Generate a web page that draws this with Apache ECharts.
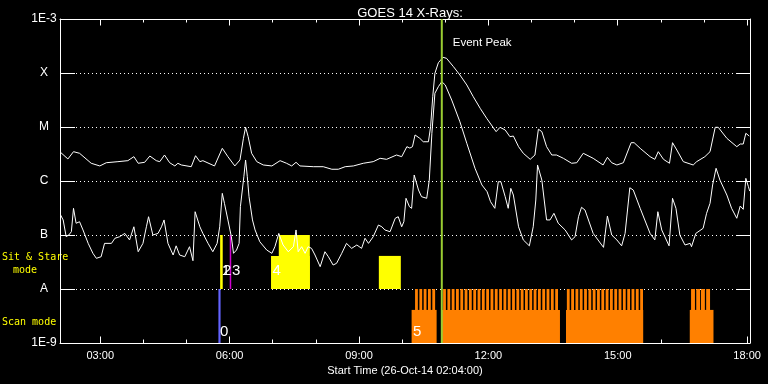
<!DOCTYPE html>
<html><head><meta charset="utf-8">
<script src="https://cdn.jsdelivr.net/npm/echarts@6/dist/echarts.min.js"></script>
<style>html,body{margin:0;padding:0;background:#000}#c{width:768px;height:384px}</style>
</head><body><div id="c"></div>
<script>
// ---- data (time in decimal hours of 26-Oct-2014, flux in W/m^2) ----
const xMin = 2.0667, xMax = 18.0667;
const majorHours = [3, 6, 9, 12, 15, 18];
const majorLabels = ['03:00', '06:00', '09:00', '12:00', '15:00', '18:00'];
const minorHours = [4, 5, 7, 8, 10, 11, 13, 14, 16, 17];
const yTickLabels = ['1E-9', 'A', 'B', 'C', 'M', 'X', '1E-3'];
const titleText = 'GOES 14 X-Rays:';
const xName = 'Start Time (26-Oct-14 02:04:00)';
const eventPeak = 10.92;

const longChannel = [[2.08,3.39e-6],[2.25,2.56e-6],[2.38,3.49e-6],[2.52,3.26e-6],[2.79,2.13e-6],[2.99,1.90e-6],[3.14,2.18e-6],[3.41,2.28e-6],[3.64,2.38e-6],[3.78,2.82e-6],[3.88,2.13e-6],[4.03,2.22e-6],[4.15,2.90e-6],[4.30,2.38e-6],[4.38,2.28e-6],[4.49,3.03e-6],[4.61,2.18e-6],[4.73,1.90e-6],[4.80,2.13e-6],[4.88,1.98e-6],[5.11,1.84e-6],[5.21,2.94e-6],[5.31,2.28e-6],[5.38,2.38e-6],[5.65,1.90e-6],[5.83,4.03e-6],[5.96,2.82e-6],[6.12,1.90e-6],[6.16,1.84e-6],[6.24,2.45e-6],[6.32,6.17e-6],[6.37,9.9e-6],[6.43,6.62e-6],[6.51,3.26e-6],[6.63,2.28e-6],[6.78,1.98e-6],[6.98,1.90e-6],[7.17,2.38e-6],[7.32,2.13e-6],[7.44,1.90e-6],[7.54,2.22e-6],[7.63,1.90e-6],[7.94,1.84e-6],[8.17,1.84e-6],[8.37,1.65e-6],[8.52,1.65e-6],[8.68,1.84e-6],[8.87,1.90e-6],[9.10,2.13e-6],[9.33,2.28e-6],[9.49,2.63e-6],[9.64,2.52e-6],[9.87,3.03e-6],[9.99,2.82e-6],[10.11,4.32e-6],[10.18,4.07e-6],[10.24,4.32e-6],[10.30,7.12e-6],[10.41,6.17e-6],[10.49,5.33e-6],[10.61,5.33e-6],[10.66,1.01e-5],[10.71,3.64e-5],[10.76,9.87e-5],[10.84,1.55e-4],[10.95,1.95e-4],[11.03,1.87e-4],[11.19,1.31e-4],[11.34,9.19e-5],[11.50,6.0e-5],[11.65,3.64e-5],[11.81,2.22e-5],[11.96,1.45e-5],[12.18,8.2e-6],[12.27,9.87e-6],[12.39,8.8e-6],[12.50,6.62e-6],[12.58,6.8e-6],[12.70,4.32e-6],[12.81,3.26e-6],[12.97,2.52e-6],[13.08,3.03e-6],[13.16,9.1e-6],[13.24,8.2e-6],[13.35,4.32e-6],[13.47,3.03e-6],[13.58,3.03e-6],[13.74,2.63e-6],[13.93,2.13e-6],[14.05,2.18e-6],[14.20,3.26e-6],[14.43,2.63e-6],[14.66,1.98e-6],[14.76,2.75e-6],[14.86,2.18e-6],[14.98,1.98e-6],[15.13,2.18e-6],[15.31,5.12e-6],[15.38,5.12e-6],[15.52,4.03e-6],[15.75,2.82e-6],[15.86,2.52e-6],[15.94,3.49e-6],[16.06,2.52e-6],[16.20,2.13e-6],[16.27,5.12e-6],[16.37,3.75e-6],[16.52,2.28e-6],[16.75,1.98e-6],[16.83,2.28e-6],[17.02,2.82e-6],[17.14,3.49e-6],[17.26,9.87e-6],[17.33,9.87e-6],[17.53,6.17e-6],[17.76,4.32e-6],[17.84,4.84e-6],[17.91,4.84e-6],[17.97,7.65e-6],[18.05,6.8e-6]];

const shortChannel = [[2.08,2.35e-7],[2.14,1.90e-7],[2.21,9.3e-8],[2.27,1.0e-7],[2.33,1.15e-7],[2.38,3.12e-7],[2.44,1.65e-7],[2.52,1.76e-7],[2.60,1.24e-7],[2.72,7.0e-8],[2.83,4.58e-8],[2.91,3.70e-8],[3.02,3.96e-8],[3.10,7.0e-8],[3.26,7.0e-8],[3.34,8.7e-8],[3.45,9.3e-8],[3.57,1.07e-7],[3.68,8.1e-8],[3.78,1.42e-7],[3.88,4.9e-8],[3.99,7.0e-8],[4.07,1.42e-7],[4.12,2.18e-7],[4.22,1.0e-7],[4.34,1.07e-7],[4.42,1.42e-7],[4.48,1.90e-7],[4.57,7.0e-8],[4.69,4.26e-8],[4.76,6.3e-8],[4.84,4.26e-8],[4.96,3.96e-8],[5.07,6.07e-8],[5.15,3.34e-8],[5.20,2.70e-7],[5.31,1.42e-7],[5.38,1.07e-7],[5.50,7.0e-8],[5.61,4.9e-8],[5.71,7.0e-8],[5.77,1.42e-7],[5.83,5.9e-7],[5.88,3.86e-7],[5.96,1.90e-7],[6.04,9.3e-8],[6.09,4.58e-8],[6.16,5.27e-8],[6.22,7.0e-8],[6.25,3.34e-7],[6.29,3.59e-7],[6.33,1.20e-6],[6.37,2.45e-6],[6.41,1.20e-6],[6.45,5.12e-7],[6.53,1.90e-7],[6.59,1.24e-7],[6.70,7.5e-8],[6.86,5.27e-8],[6.98,4.58e-8],[7.05,6.07e-8],[7.14,1.07e-7],[7.24,6.53e-8],[7.36,4.9e-8],[7.48,6.07e-8],[7.54,1.24e-7],[7.59,4.9e-8],[7.67,6.07e-8],[7.75,4.58e-8],[7.82,6.07e-8],[7.90,5.66e-8],[7.98,4.26e-8],[8.10,2.59e-8],[8.21,4.9e-8],[8.29,3.96e-8],[8.40,2.78e-8],[8.48,2.99e-8],[8.60,4.58e-8],[8.71,7.0e-8],[8.83,5.66e-8],[8.95,6.53e-8],[9.06,5.66e-8],[9.14,8.7e-8],[9.22,7.0e-8],[9.33,9.3e-8],[9.45,1.53e-7],[9.53,1.42e-7],[9.60,1.24e-7],[9.64,1.33e-7],[9.72,1.15e-7],[9.84,2.04e-7],[9.91,2.18e-7],[9.99,1.42e-7],[10.04,1.76e-7],[10.09,4.78e-7],[10.17,3.34e-7],[10.22,3.12e-7],[10.28,1.29e-6],[10.38,6.8e-7],[10.45,5.12e-7],[10.57,4.78e-7],[10.63,1.04e-6],[10.69,7.65e-6],[10.76,4.21e-5],[10.84,5.58e-5],[10.92,6.9e-5],[11.00,6.0e-5],[11.15,3.16e-5],[11.34,1.25e-5],[11.50,4.99e-6],[11.69,1.72e-6],[11.85,8.44e-7],[11.97,6.34e-7],[12.05,4.14e-7],[12.15,3.12e-7],[12.23,9.7e-7],[12.29,9.7e-7],[12.39,5.12e-7],[12.46,3.12e-7],[12.52,7.3e-7],[12.58,5.5e-7],[12.70,1.42e-7],[12.81,8.1e-8],[12.95,6.3e-8],[13.04,1.42e-7],[13.10,4.45e-7],[13.14,1.98e-6],[13.24,1.04e-6],[13.35,1.90e-7],[13.43,1.90e-7],[13.52,2.52e-7],[13.62,1.65e-7],[13.78,1.24e-7],[13.93,8.1e-8],[14.01,9.3e-8],[14.09,2.18e-7],[14.16,3.26e-7],[14.24,2.90e-7],[14.43,1.07e-7],[14.67,5.9e-8],[14.76,2.25e-7],[14.86,1.0e-7],[14.98,8.1e-8],[15.09,6.3e-8],[15.17,1.07e-7],[15.28,7.5e-7],[15.36,6.8e-7],[15.52,3.12e-7],[15.75,1.07e-7],[15.86,8.1e-8],[15.93,2.70e-7],[16.02,1.24e-7],[16.19,6.3e-8],[16.27,4.78e-7],[16.35,3.12e-7],[16.44,1.0e-7],[16.56,6.53e-8],[16.68,7.0e-8],[16.71,6.07e-8],[16.81,1.07e-7],[16.98,1.33e-7],[17.06,2.52e-7],[17.14,3.86e-7],[17.20,8.44e-7],[17.28,1.72e-6],[17.37,1.04e-6],[17.53,5.5e-7],[17.64,3.12e-7],[17.76,2.04e-7],[17.84,3.44e-7],[17.91,2.99e-7],[17.97,1.12e-6],[18.03,7.85e-7],[18.06,6.5e-7]];

// mode bars: [start, end, lowFlux, highFlux]
const sitStareBlocks = [[5.78,5.84,1e-8,1e-7],[6.96,7.86,1e-8,4.1e-8],[7.14,7.86,1e-8,1e-7],[9.46,9.97,1e-8,4.1e-8]];
const sitStareMarks = [[6.02,6.02,1e-8,1e-7]];
const scanStartBars = [[5.74,5.79,1e-9,1e-8]];
const scanBlocks = [[10.22,10.80,1e-9,4.1e-9],[10.92,13.66,1e-9,4.1e-9],[13.80,15.59,1e-9,4.1e-9],[16.67,17.22,1e-9,4.1e-9]];
// individual scans reaching the top of the scan band: [start, end]
const scanSpikes = [
 [10.30,10.365],[10.40,10.465],[10.50,10.565],[10.60,10.665],[10.70,10.765],
 [10.95,11.015],[11.05,11.115],[11.15,11.215],[11.25,11.315],[11.35,11.415],[11.45,11.515],[11.55,11.615],[11.65,11.715],[11.75,11.815],[11.85,11.915],[11.95,12.015],[12.05,12.115],[12.15,12.215],[12.25,12.315],[12.35,12.415],[12.45,12.515],[12.55,12.615],[12.65,12.715],[12.75,12.815],[12.85,12.915],[12.95,13.015],[13.05,13.115],[13.15,13.215],[13.25,13.315],[13.35,13.415],[13.45,13.515],[13.55,13.615],
 [13.82,13.885],[13.92,13.985],[14.02,14.085],[14.12,14.185],[14.22,14.285],[14.32,14.385],[14.42,14.485],[14.52,14.585],[14.62,14.685],[14.72,14.785],[14.82,14.885],[14.92,14.985],[15.02,15.085],[15.12,15.185],[15.22,15.285],[15.32,15.385],[15.42,15.485],[15.52,15.585],
 [16.70,16.79],[16.82,16.91],[16.93,17.02],[17.05,17.14]];
// event number labels: [time, text]
const sitStareLabels = [[5.78,'1'],[5.81,'2'],[6.02,'3'],[6.96,'4']];
const scanLabels = [[5.74,'0'],[10.22,'5']];

const WHITE = '#ffffff', YELLOW = '#ffff00', ORANGE = '#ff8000', MAGENTA = '#d000d0', BLUE = '#6464ff', GREEN = '#9acd32';
const FONT = '"Liberation Sans", Arial, sans-serif';

function rectRenderer(color, minW) {
  return function (params, api) {
    const p0 = api.coord([api.value(0), api.value(3)]);
    const p1 = api.coord([api.value(1), api.value(2)]);
    let w = p1[0] - p0[0];
    let x = p0[0];
    if (w < minW) { x = x - (minW - w) / 2; w = minW; }
    return { type: 'rect', shape: { x: x, y: p0[1], width: w, height: p1[1] - p0[1] }, style: { fill: color } };
  };
}
function rectSeries(data, color, minW) {
  return { type: 'custom', data: data, renderItem: rectRenderer(color, minW), encode: { x: [0, 1], y: [2, 3] }, silent: true, z: 2, clip: true };
}
function labelSeries(data, baseFlux, dx, dy) {
  return { type: 'custom', data: data, silent: true, z: 3, encode: { x: 0 },
    renderItem: function (params, api) {
      const p = api.coord([api.value(0), baseFlux]);
      return { type: 'text', x: p[0] + dx, y: p[1] + dy,
        style: { text: data[params.dataIndex][1], fill: WHITE, font: '15px ' + FONT, textAlign: 'left', textVerticalAlign: 'bottom' } };
    } };
}

const xBase = { type: 'value', min: xMin, max: xMax, splitLine: { show: false } };
const chart = echarts.init(document.getElementById('c'), null, { renderer: 'canvas' });
chart.setOption({
  backgroundColor: '#000000',
  animation: false,
  title: { text: titleText, left: 405, top: 2, textAlign: 'center',
    textStyle: { color: WHITE, fontSize: 13, fontWeight: 'normal', fontFamily: FONT } },
  grid: { left: 60, right: 18, top: 19, bottom: 41 },
  xAxis: [
    Object.assign({}, xBase, { position: 'bottom',
      axisLine: { lineStyle: { color: WHITE, width: 1 } },
      axisTick: { inside: true, length: 6.5, customValues: majorHours, lineStyle: { color: WHITE } },
      axisLabel: { customValues: majorHours, color: WHITE, fontSize: 11, fontFamily: FONT, margin: 7,
        formatter: function (v) { const i = majorHours.indexOf(Math.round(v)); return i >= 0 ? majorLabels[i] : ''; } },
      name: xName, nameLocation: 'middle', nameGap: 20,
      nameTextStyle: { color: WHITE, fontSize: 11, fontFamily: FONT, verticalAlign: 'top' } }),
    Object.assign({}, xBase, { position: 'bottom', axisLine: { show: false },
      axisTick: { inside: true, length: 3.5, customValues: minorHours, lineStyle: { color: WHITE } },
      axisLabel: { show: false } }),
    Object.assign({}, xBase, { position: 'top',
      axisLine: { lineStyle: { color: WHITE, width: 1 } },
      axisTick: { inside: true, length: 6.5, customValues: majorHours, lineStyle: { color: WHITE } },
      axisLabel: { show: false } }),
    Object.assign({}, xBase, { position: 'top', axisLine: { show: false },
      axisTick: { inside: true, length: 3.5, customValues: minorHours, lineStyle: { color: WHITE } },
      axisLabel: { show: false } })
  ],
  yAxis: [
    { type: 'log', logBase: 10, min: 1e-9, max: 1e-3, position: 'left',
      axisLine: { show: true, lineStyle: { color: WHITE, width: 1 } },
      axisTick: { show: true, inside: true, length: 15, lineStyle: { color: WHITE } },
      minorTick: { show: false },
      axisLabel: { color: WHITE, fontSize: 12, fontFamily: FONT, align: 'center', margin: 16,
        formatter: function (v) { const i = Math.round(Math.log10(v)) + 9; return yTickLabels[i] || ''; } },
      splitLine: { show: true, lineStyle: { color: WHITE, width: 1, type: [1, 3] } } },
    { type: 'log', logBase: 10, min: 1e-9, max: 1e-3, position: 'right',
      axisLine: { show: true, lineStyle: { color: WHITE, width: 1 } },
      axisTick: { show: true, inside: true, length: 14, lineStyle: { color: WHITE } },
      axisLabel: { show: false }, splitLine: { show: false } }
  ],
  graphic: [
    { type: 'text', left: 2, top: 252, style: { text: 'Sit & Stare', fill: YELLOW, font: '10px "DejaVu Sans Mono", monospace' } },
    { type: 'text', left: 13, top: 265, style: { text: 'mode', fill: YELLOW, font: '10px "DejaVu Sans Mono", monospace' } },
    { type: 'text', left: 2, top: 317, style: { text: 'Scan mode', fill: YELLOW, font: '10px "DejaVu Sans Mono", monospace' } }
  ],
  series: [
    rectSeries(sitStareBlocks, YELLOW, 1),
    rectSeries(sitStareMarks, MAGENTA, 1.5),
    rectSeries(scanStartBars, BLUE, 1),
    rectSeries(scanBlocks, ORANGE, 1),
    rectSeries(scanSpikes.map(s => [s[0], s[1], 1e-9, 1e-8]), ORANGE, 1),
    labelSeries(sitStareLabels, 1e-8, 1.5, -11),
    labelSeries(scanLabels, 1e-9, 1.5, -4),
    { type: 'line', data: longChannel, showSymbol: false, symbol: 'none', z: 4,
      lineStyle: { color: WHITE, width: 1 }, silent: true, clip: true },
    { type: 'line', data: shortChannel, showSymbol: false, symbol: 'none', z: 4,
      lineStyle: { color: WHITE, width: 1 }, silent: true, clip: true },
    { type: 'custom', data: [[eventPeak]], z: 5, silent: true, encode: { x: 0 },
      renderItem: function (params, api) {
        const top = api.coord([api.value(0), 1e-3]);
        const bot = api.coord([api.value(0), 1e-9]);
        return { type: 'group', children: [
          { type: 'rect', shape: { x: top[0] - 1, y: top[1], width: 2, height: bot[1] - top[1] }, style: { fill: GREEN } },
          { type: 'text', x: top[0] + 11, y: top[1] + 24,
            style: { text: 'Event Peak', fill: WHITE, font: '11.5px ' + FONT, textAlign: 'left', textVerticalAlign: 'middle' } }
        ] };
      } }
  ]
});
</script></body></html>
